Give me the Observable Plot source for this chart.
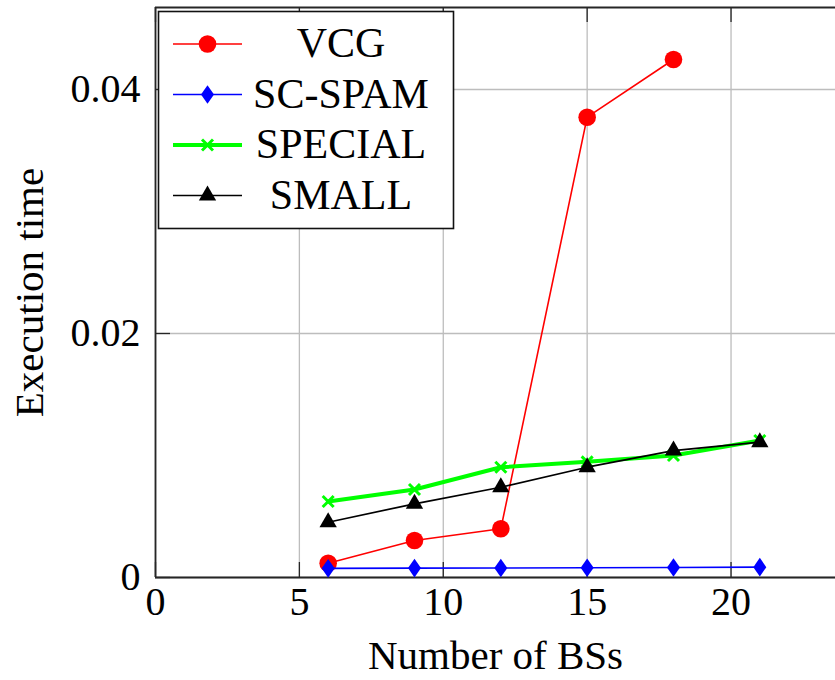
<!DOCTYPE html>
<html><head><meta charset="utf-8">
<script src="https://cdn.jsdelivr.net/npm/d3@7"></script>
<script src="https://cdn.jsdelivr.net/npm/@observablehq/plot@0.6"></script>
<style>body{margin:0;background:#fff} svg{display:block} svg text{font-family:"Liberation Serif","Times New Roman",serif !important}</style>
</head><body><div id="chart"></div>
<script>
// ---- data ----
const bsCounts = [6, 9, 12, 15, 18, 21];
const seriesNames = ["VCG", "SC-SPAM", "SPECIAL", "SMALL"];
const vcgTimes = [0.00117, 0.00303, 0.00399, 0.03773, 0.04246];
const scSpamTimes = [0.00075, 0.00077, 0.00078, 0.00080, 0.00082, 0.00085];
const specialTimes = [0.00623, 0.00721, 0.00904, 0.00948, 0.0100, 0.01123];
const smallTimes = [0.00453, 0.00604, 0.0074, 0.00904, 0.0104, 0.01109];
const xTicks = [0, 5, 10, 15, 20];
const yTicks = [0, 0.02, 0.04];
const xLabel = "Number of BSs";
const yLabel = "Execution time";

// ---- marker shapes (drawn from the radius r = sqrt(size/PI)) ----
const rOf = size => Math.sqrt(size / Math.PI);
const symDiamond = {draw(c, size) { const r = rOf(size), w = r * 0.7;
  c.moveTo(0, -r); c.lineTo(w, 0); c.lineTo(0, r); c.lineTo(-w, 0); c.closePath(); }};
const symTriangle = {draw(c, size) { const R = rOf(size), hw = R * Math.sqrt(3) / 2;
  c.moveTo(0, -R); c.lineTo(hw, R / 2); c.lineTo(-hw, R / 2); c.closePath(); }};
const symCross = {draw(c, size) { const r = rOf(size);
  c.moveTo(-r, -r); c.lineTo(r, r); c.moveTo(r, -r); c.lineTo(-r, r); }};
const symCircle = d3.symbolCircle;

// ---- styles ----
const styles = {
  "VCG":     {color: "#ff0000", symbol: symCircle,   r: 8.8, lw: 1.6, stroked: false},
  "SC-SPAM": {color: "#0000ff", symbol: symDiamond,  r: 9.3, lw: 1.6, stroked: false},
  "SPECIAL": {color: "#00ff00", symbol: symCross,    r: 5.5, lw: 4.0, stroked: true},
  "SMALL":   {color: "#000000", symbol: symTriangle, r: 10,  lw: 1.7, stroked: false}
};
const valuesBySeries = {"VCG": vcgTimes, "SC-SPAM": scSpamTimes, "SPECIAL": specialTimes, "SMALL": smallTimes};
const table = seriesNames.flatMap(s => valuesBySeries[s].map((v, i) => ({series: s, x: bsCounts[i], y: v})));

const W = 835, H = 680, ML = 155, MR = 0, MT = 7, MB = 103;
const xMax = 23.63, yMax = 0.04672;
const FS = 40;
const axisColor = "#262626";

const seriesMarks = seriesNames.flatMap(s => {
  const st = styles[s];
  const d = table.filter(r => r.series === s);
  return [
    Plot.line(d, {x: "x", y: "y", stroke: st.color, strokeWidth: st.lw}),
    st.stroked
      ? Plot.dot(d, {x: "x", y: "y", symbol: st.symbol, r: st.r, stroke: st.color, strokeWidth: 3, fill: "none"})
      : Plot.dot(d, {x: "x", y: "y", symbol: st.symbol, r: st.r, fill: st.color, stroke: "none"})
  ];
});

const plotH = H - MT - MB, plotW = W - ML - MR;
const tickLen = 15;

const chart = Plot.plot({
  width: W, height: H,
  marginLeft: ML, marginRight: MR, marginTop: MT, marginBottom: MB,
  style: {background: "#fff", overflow: "visible"},
  x: {domain: [0, xMax]},
  y: {domain: [0, yMax]},
  marks: [
    Plot.gridX(xTicks, {stroke: "#bdbdbd", strokeOpacity: 1, strokeWidth: 1.3}),
    Plot.gridY(yTicks, {stroke: "#bdbdbd", strokeOpacity: 1, strokeWidth: 1.3}),
    // inward ticks
    Plot.ruleX(xTicks, {insetTop: plotH - tickLen, stroke: axisColor, strokeWidth: 1.3}),
    Plot.ruleX(xTicks, {insetBottom: plotH - tickLen, stroke: axisColor, strokeWidth: 1.3}),
    Plot.ruleY(yTicks, {insetRight: plotW - tickLen, stroke: axisColor, strokeWidth: 1.3}),
    // frame lines
    Plot.ruleX([0], {stroke: axisColor, strokeWidth: 1.8}),
    Plot.ruleY([0], {stroke: axisColor, strokeWidth: 1.8}),
    Plot.ruleY([yMax], {stroke: axisColor, strokeWidth: 1.8}),
    Plot.axisX(xTicks, {tickSize: 0, tickPadding: 9, fontSize: FS, fill: "#000", label: null}),
    Plot.axisY(yTicks, {tickSize: 0, tickPadding: 15, fontSize: FS, fill: "#000", label: null,
      tickFormat: d => d === 0 ? "0" : d.toFixed(2)}),
    Plot.text([xLabel], {frameAnchor: "bottom", dy: 78, lineAnchor: "middle", textAnchor: "middle", fontSize: 41, fill: "#000"}),
    Plot.text([yLabel], {frameAnchor: "left", dx: -126, rotate: -90, lineAnchor: "middle", textAnchor: "middle", fontSize: 41, fill: "#000"}),
    ...seriesMarks
  ]
});
document.getElementById("chart").append(chart);

// ---- legend ----
const svg = d3.select(chart);
const lg = svg.append("g");
lg.append("rect").attr("x", 158.5).attr("y", 11.5).attr("width", 295).attr("height", 217)
  .attr("fill", "#fff").attr("stroke", "#111").attr("stroke-width", 1.6);
seriesNames.forEach((s, i) => {
  const st = styles[s];
  const cy = 44 + i * 50.5;
  lg.append("line").attr("x1", 173).attr("x2", 242).attr("y1", cy).attr("y2", cy)
    .attr("stroke", st.color).attr("stroke-width", st.lw);
  const p = lg.append("path").attr("transform", `translate(207.5,${cy})`)
    .attr("d", d3.symbol(st.symbol, Math.PI * st.r * st.r)());
  if (st.stroked) p.attr("fill", "none").attr("stroke", st.color).attr("stroke-width", 3);
  else p.attr("fill", st.color);
  lg.append("text").attr("x", 341).attr("y", cy).attr("dy", "0.32em").attr("text-anchor", "middle")
    .attr("font-size", 42).attr("fill", "#000").text(s);
});
</script>
</body></html>
